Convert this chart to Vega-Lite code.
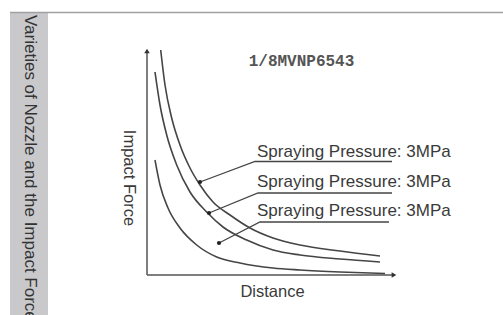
{
  "$schema": "https://vega.github.io/schema/vega-lite/v6.json",
  "width": 503,
  "height": 315,
  "autosize": "none",
  "padding": 0,
  "background": "white",
  "config": {"view": {"stroke": null}},
  "datasets": {
    "curves": [
      {"curve": "A", "d": 13.7, "f": 225}, {"curve": "A", "d": 18, "f": 190}, {"curve": "A", "d": 24.7, "f": 157},
      {"curve": "A", "d": 33, "f": 130}, {"curve": "A", "d": 43, "f": 107}, {"curve": "A", "d": 53, "f": 90},
      {"curve": "A", "d": 66, "f": 73}, {"curve": "A", "d": 83, "f": 60}, {"curve": "A", "d": 103, "f": 47},
      {"curve": "A", "d": 126, "f": 37}, {"curve": "A", "d": 153, "f": 30}, {"curve": "A", "d": 193, "f": 24},
      {"curve": "A", "d": 233, "f": 19},
      {"curve": "B", "d": 8, "f": 203}, {"curve": "B", "d": 13, "f": 170}, {"curve": "B", "d": 19.7, "f": 140},
      {"curve": "B", "d": 29.7, "f": 110}, {"curve": "B", "d": 43, "f": 83}, {"curve": "B", "d": 59.7, "f": 63},
      {"curve": "B", "d": 76, "f": 48}, {"curve": "B", "d": 99.7, "f": 35}, {"curve": "B", "d": 126, "f": 25},
      {"curve": "B", "d": 153, "f": 20}, {"curve": "B", "d": 193, "f": 16}, {"curve": "B", "d": 233, "f": 13},
      {"curve": "C", "d": 8, "f": 115}, {"curve": "C", "d": 13, "f": 90}, {"curve": "C", "d": 21, "f": 67},
      {"curve": "C", "d": 33, "f": 47}, {"curve": "C", "d": 49.7, "f": 30}, {"curve": "C", "d": 69.7, "f": 18},
      {"curve": "C", "d": 93, "f": 12}, {"curve": "C", "d": 126, "f": 7}, {"curve": "C", "d": 153, "f": 5},
      {"curve": "C", "d": 193, "f": 3}, {"curve": "C", "d": 238, "f": 1.5}
    ],
    "pointers": [
      {"p": "1", "o": 1, "d": 53, "f": 93}, {"p": "1", "o": 2, "d": 108, "f": 113.5}, {"p": "1", "o": 3, "d": 245, "f": 113.5},
      {"p": "2", "o": 1, "d": 62, "f": 62}, {"p": "2", "o": 2, "d": 111, "f": 82}, {"p": "2", "o": 3, "d": 245, "f": 82},
      {"p": "3", "o": 1, "d": 72, "f": 32}, {"p": "3", "o": 2, "d": 113, "f": 53}, {"p": "3", "o": 3, "d": 242, "f": 53}
    ],
    "heads": [
      {"d": 53, "f": 93}, {"d": 62, "f": 62}, {"d": 72, "f": 32}
    ],
    "labels": [
      {"d": 110, "f": 118.5, "t": "Spraying Pressure: 3MPa"},
      {"d": 110, "f": 88, "t": "Spraying Pressure: 3MPa"},
      {"d": 110, "f": 59, "t": "Spraying Pressure: 3MPa"}
    ],
    "axes": [
      {"a": "y", "o": 1, "d": 0, "f": 0}, {"a": "y", "o": 2, "d": 0, "f": 222},
      {"a": "x", "o": 1, "d": 0, "f": 0}, {"a": "x", "o": 2, "d": 245, "f": 0}
    ]
  },
  "encoding": {
    "x": {"field": "d", "type": "quantitative", "scale": {"domain": [-147, 356], "nice": false, "zero": false}, "axis": null},
    "y": {"field": "f", "type": "quantitative", "scale": {"domain": [-40, 275], "nice": false, "zero": false}, "axis": null}
  },
  "layer": [
    {
      "data": {"values": [{"d0": -137, "d1": -99, "f0": 262.5, "f1": -40}]},
      "mark": {"type": "rect", "color": "#c9c9cc"},
      "encoding": {
        "x": {"field": "d0", "type": "quantitative"},
        "x2": {"field": "d1"},
        "y": {"field": "f0", "type": "quantitative"},
        "y2": {"field": "f1"}
      }
    },
    {
      "data": {"values": [{"d0": -137, "d1": 356, "f": 262.5}]},
      "mark": {"type": "rule", "color": "#a0a0a0", "strokeWidth": 1.5},
      "encoding": {
        "x": {"field": "d0", "type": "quantitative"},
        "x2": {"field": "d1"},
        "y": {"field": "f", "type": "quantitative"}
      }
    },
    {
      "data": {"values": [{"d": -117, "f": 260, "t": "Varieties of Nozzle and the Impact Force"}]},
      "mark": {"type": "text", "angle": 90, "align": "left", "baseline": "middle", "font": "Liberation Sans", "fontSize": 17, "color": "#333333"},
      "encoding": {"text": {"field": "t"}}
    },
    {
      "data": {"name": "axes"},
      "mark": {"type": "line", "color": "#555555", "strokeWidth": 1.5},
      "encoding": {"detail": {"field": "a"}, "order": {"field": "o"}}
    },
    {
      "data": {"values": [{"d": 0, "f": 224, "s": "triangle-up"}, {"d": 247, "f": 0, "s": "triangle-right"}]},
      "mark": {"type": "point", "filled": true, "color": "#333333", "size": 30, "opacity": 1},
      "encoding": {"shape": {"field": "s", "type": "nominal", "scale": null}}
    },
    {
      "data": {"name": "curves"},
      "mark": {"type": "line", "color": "#454545", "strokeWidth": 1.6, "interpolate": "monotone"},
      "encoding": {"detail": {"field": "curve"}}
    },
    {
      "data": {"name": "pointers"},
      "mark": {"type": "line", "color": "#454545", "strokeWidth": 1.3},
      "encoding": {"detail": {"field": "p"}, "order": {"field": "o"}}
    },
    {
      "data": {"name": "heads"},
      "mark": {"type": "point", "filled": true, "shape": "circle", "color": "#222222", "size": 18, "opacity": 1}
    },
    {
      "data": {"name": "labels"},
      "mark": {"type": "text", "align": "left", "baseline": "alphabetic", "font": "Liberation Sans", "fontSize": 17, "color": "#3a3a3a"},
      "encoding": {"text": {"field": "t"}}
    },
    {
      "data": {"values": [{"d": 154.5, "f": 209, "t": "1/8MVNP6543"}]},
      "mark": {"type": "text", "align": "center", "baseline": "alphabetic", "font": "Liberation Mono", "fontWeight": "bold", "fontSize": 16, "color": "#555555"},
      "encoding": {"text": {"field": "t"}}
    },
    {
      "data": {"values": [{"d": -18.5, "f": 97, "t": "Impact Force"}]},
      "mark": {"type": "text", "angle": 90, "align": "center", "baseline": "middle", "font": "Liberation Sans", "fontSize": 16.5, "color": "#3a3a3a"},
      "encoding": {"text": {"field": "t"}}
    },
    {
      "data": {"values": [{"d": 125.5, "f": -21.5, "t": "Distance"}]},
      "mark": {"type": "text", "align": "center", "baseline": "alphabetic", "font": "Liberation Sans", "fontSize": 16.5, "color": "#3a3a3a"},
      "encoding": {"text": {"field": "t"}}
    }
  ]
}
